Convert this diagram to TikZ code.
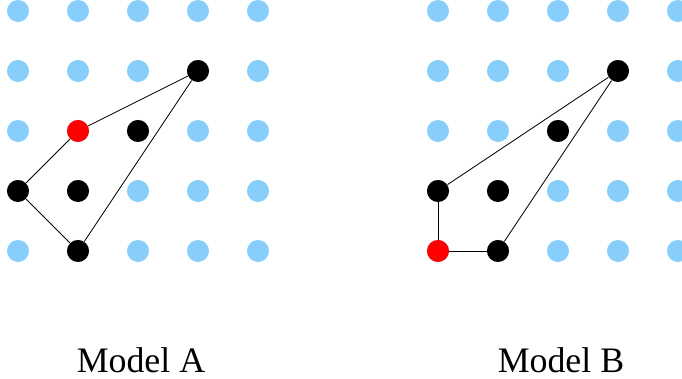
\documentclass[tikz,border=0pt]{standalone}
\usepackage{fontspec}
\setmainfont{Liberation Serif}
\definecolor{gridblue}{RGB}{135,206,250}
\begin{document}
\begin{tikzpicture}[dot/.style={circle, inner sep=0pt, minimum size=0.367cm, fill}]
\useasboundingbox (-0.3,-2.133) rectangle (11.067,4.183);
% grids
\foreach \i in {0,...,4}{
\foreach \j in {0,...,4}{
\node[dot, gridblue] (ga\i\j) at (\i,\j){};
\node[dot, gridblue] (gb\i\j) at (7+\i,\j){};
}}
% model A
\node[dot, red] (a0) at (1,2){};
\node[dot] (a1) at (3,3){};
\node[dot] (a2) at (2,2){};
\node[dot] (a3) at (0,1){};
\node[dot] (a4) at (1,1){};
\node[dot] (a5) at (1,0){};
\draw[](a0) -- (a1);
\draw[](a1) -- (a5);
\draw[](a5) -- (a3);
\draw[](a3) -- (a0);
% model B
\node[dot, red] (b0) at (7,0){};
\node[dot] (b1) at (10,3){};
\node[dot] (b2) at (9,2){};
\node[dot] (b3) at (7,1){};
\node[dot] (b4) at (8,1){};
\node[dot] (b5) at (8,0){};
\draw[](b3) -- (b1);
\draw[](b1) -- (b5);
\draw[](b5) -- (b0);
\draw[](b0) -- (b3);
\node[anchor=base, font=\fontsize{17}{20}\selectfont] (la) at (2.05,-2.017) {Model A};
\node[anchor=base, font=\fontsize{17}{20}\selectfont] (lb) at (9.05,-2.017) {Model B};
\end{tikzpicture}
\end{document}
